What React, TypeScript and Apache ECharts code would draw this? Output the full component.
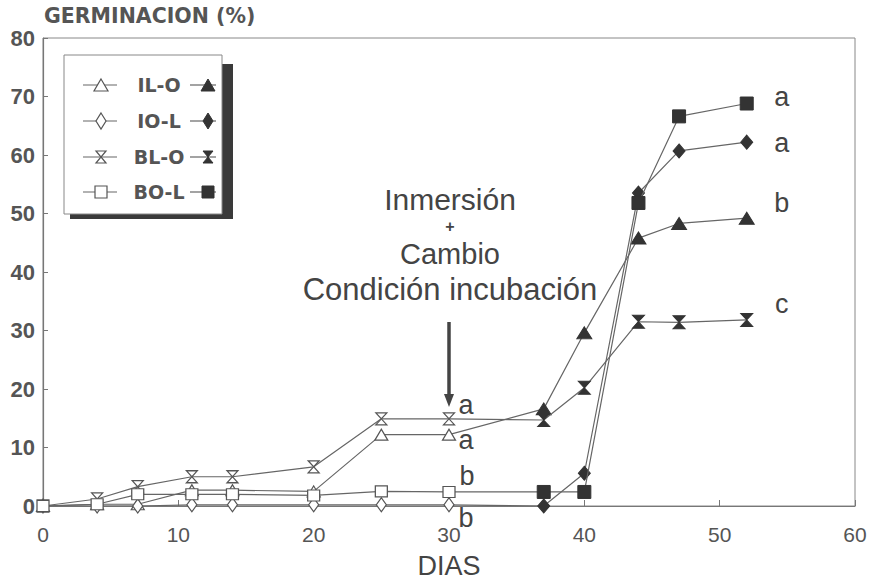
import React, { useEffect, useRef } from 'react';
import * as echarts from 'echarts';

// ---- data ----
const days = [0, 4, 7, 11, 14, 20, 25, 30, 37, 40, 44, 47, 52];
const seriesNames = ['IL-O', 'IO-L', 'BL-O', 'BO-L'];
const ilO = [0, 0.3, 0.3, 2.7, 2.7, 2.5, 12.2, 12.2, 16.6, 29.6, 45.8, 48.3, 49.2];
const ioL = [0, 0, 0, 0.2, 0.2, 0.2, 0.2, 0.2, 0, 5.6, 53.5, 60.7, 62.2];
const blO = [0, 1.2, 3.3, 5, 5, 6.7, 14.9, 14.9, 14.7, 20.2, 31.5, 31.4, 31.8];
const boL = [0, 0.3, 2, 2, 2, 1.8, 2.5, 2.4, 2.4, 2.4, 51.8, 66.6, 68.8];
const immersionDay = 30; // points after this day are drawn filled
const lettersAtImmersion = ['a', 'b', 'a', 'b'];
const lettersAtEnd = ['b', 'a', 'c', 'a'];
const annotationLines = ['Inmersión', '+', 'Cambio', 'Condición incubación'];
const yAxisTitle = 'GERMINACION (%)';
const xAxisTitle = 'DIAS';

const FONT = '"Liberation Sans", Arial, Helvetica, sans-serif';
const WIDE = '"DejaVu Sans", "Liberation Sans", sans-serif';
const HOURGLASS = 'path://M0,0L10,0L5,5L10,10L0,10L5,5Z';

export default function App() {
  const ref = useRef<HTMLDivElement>(null);

  useEffect(() => {
    if (!ref.current) return;
    const chart = echarts.init(ref.current, undefined, { renderer: 'svg' });

    const values = [ilO, ioL, blO, boL];
    const symbols = ['triangle', 'diamond', HOURGLASS, 'rect'];
    const openSizes: any[] = [[13, 11], [10, 14], [11, 12], [12, 11]];
    const filledSizes: any[] = [[15, 12], [12, 14], [12, 13], [13, 13]];
    const immOffsets = [[17, 5], [17, 13], [17, -14], [18, -16]];
    const endOffsets = [[35, -15], [35, 1], [35, -16], [35, -7]];

    const series = seriesNames.map((name, s) => ({
      type: 'line',
      name,
      symbol: symbols[s],
      z: 2 + s,
      lineStyle: { color: '#666', width: 1.2 },
      itemStyle: { color: '#333' },
      data: days.map((d, i) => {
        const filled = d > immersionDay;
        const item: any = {
          value: [d, values[s][i]],
          symbolSize: filled ? filledSizes[s] : openSizes[s],
          itemStyle: filled
            ? { color: '#333', borderColor: '#333', borderWidth: 1 }
            : { color: '#fff', borderColor: '#555', borderWidth: 1.2 },
        };
        const letterStyle = {
          show: true,
          position: 'inside',
          fontSize: 27,
          color: '#444',
          fontFamily: FONT,
        };
        if (d === immersionDay) {
          item.label = { ...letterStyle, formatter: lettersAtImmersion[s], offset: immOffsets[s] };
        }
        if (i === days.length - 1) {
          item.label = { ...letterStyle, formatter: lettersAtEnd[s], offset: endOffsets[s] };
        }
        return item;
      }),
    }));

    // legend drawn as graphic
    const legendGraphics: any[] = [
      { type: 'rect', shape: { x: 70, y: 64, width: 163, height: 155 }, style: { fill: '#3a3a3a' }, z: 10 },
      { type: 'rect', shape: { x: 64, y: 55, width: 158, height: 159 }, style: { fill: '#fff', stroke: '#888', lineWidth: 1 }, z: 11 },
    ];
    const rowY = [85, 121, 157, 192];
    const shapeAt = (s: number, cx: number, cy: number, filled: boolean) => {
      const style = filled
        ? { fill: '#333', stroke: '#333', lineWidth: 1 }
        : { fill: '#fff', stroke: '#555', lineWidth: 1.2 };
      if (s === 0) return { type: 'polygon', shape: { points: [[cx, cy - 6], [cx + 7, cy + 6], [cx - 7, cy + 6]] }, style, z: 13 };
      if (s === 1) return { type: 'polygon', shape: { points: [[cx, cy - 8], [cx + 5, cy], [cx, cy + 8], [cx - 5, cy]] }, style, z: 13 };
      if (s === 2) return { type: 'polygon', shape: { points: [[cx - 5, cy - 6], [cx + 5, cy - 6], [cx, cy], [cx + 5, cy + 6], [cx - 5, cy + 6], [cx, cy]] }, style, z: 13 };
      return { type: 'rect', shape: { x: cx - 6, y: cy - 6, width: 12, height: 12 }, style, z: 13 };
    };
    seriesNames.forEach((name, s) => {
      const cy = rowY[s];
      legendGraphics.push(
        { type: 'line', shape: { x1: 83, y1: cy, x2: 117, y2: cy }, style: { stroke: '#666', lineWidth: 1.2 }, z: 12 },
        shapeAt(s, 101, cy, false),
        { type: 'text', x: 159, y: cy, style: { text: name, fontSize: 19, fontWeight: 'bold', fill: '#555', align: 'center', verticalAlign: 'middle', fontFamily: WIDE }, z: 13 },
        { type: 'line', shape: { x1: 190, y1: cy, x2: 216, y2: cy }, style: { stroke: '#666', lineWidth: 1.2 }, z: 12 },
        shapeAt(s, 208, cy, true),
      );
    });

    const annY = [199, 226, 254, 289];
    const annSize = [30, 16, 29, 31];
    const annGraphics = annotationLines.map((t, i) => ({
      type: 'text',
      x: 450,
      y: annY[i],
      style: {
        text: t,
        fontSize: annSize[i],
        fontWeight: i === 1 ? 'bold' : 'normal',
        fill: '#444',
        align: 'center',
        verticalAlign: 'middle',
        fontFamily: FONT,
      },
      z: 10,
    }));

    const arrow = [
      { type: 'line', shape: { x1: 449, y1: 322, x2: 449, y2: 396 }, style: { stroke: '#444', lineWidth: 3.5 }, z: 10 },
      { type: 'polygon', shape: { points: [[444, 394], [454, 394], [449, 407]] }, style: { fill: '#444' }, z: 10 },
    ];

    chart.setOption({
      animation: false,
      backgroundColor: '#fff',
      title: {
        text: yAxisTitle,
        left: 44,
        top: 5,
        padding: 0,
        textStyle: { fontSize: 20.5, fontWeight: 'bold', color: '#555', fontFamily: WIDE },
      },
      grid: { left: 43, right: 19, top: 38, bottom: 74, show: true, borderColor: '#888', borderWidth: 1 },
      xAxis: {
        type: 'value',
        min: 0,
        max: 60,
        interval: 10,
        name: xAxisTitle,
        nameLocation: 'middle',
        nameGap: 46,
        nameTextStyle: { fontSize: 27, color: '#444', fontFamily: FONT },
        axisLine: { lineStyle: { color: '#777', width: 1.2 } },
        axisTick: { inside: true, length: 6, lineStyle: { color: '#777' } },
        axisLabel: { fontSize: 21, color: '#555', margin: 18, fontFamily: FONT },
        splitLine: { show: false },
      },
      yAxis: {
        type: 'value',
        min: 0,
        max: 80,
        interval: 10,
        axisLine: { show: true, lineStyle: { color: '#777', width: 1.2 } },
        axisTick: { show: true, inside: true, length: 5, lineStyle: { color: '#777' } },
        axisLabel: { fontSize: 22, fontWeight: 'bold', color: '#555', margin: 8, fontFamily: FONT },
        splitLine: { show: false },
      },
      series,
      graphic: [...legendGraphics, ...annGraphics, ...arrow],
    });

    return () => chart.dispose();
  }, []);

  return <div ref={ref} style={{ position: 'fixed', left: 0, top: 0, width: 874, height: 584 }} />;
}
